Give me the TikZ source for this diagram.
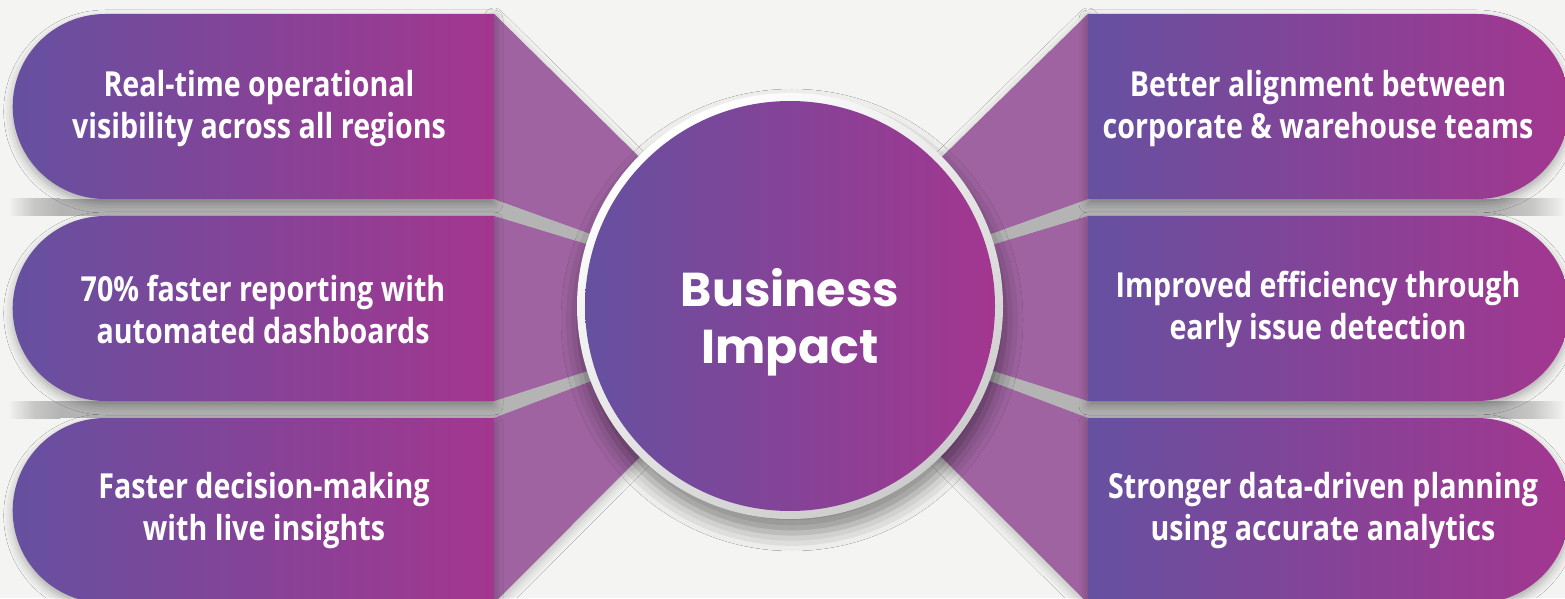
\documentclass[tikz,border=0pt]{standalone}
\usepackage{fontspec}
\setmainfont{Open Sans}[FakeStretch=0.83]
\newfontfamily\popfont{Poppins}
\usetikzlibrary{shadows.blur}
\definecolor{bg}{HTML}{F4F4F2}
\definecolor{pl}{HTML}{6650A0}
\definecolor{pr}{HTML}{A3368F}
\definecolor{wedgec}{HTML}{9E63A0}
\definecolor{gapgray}{HTML}{B4B4B4}
\tikzset{
  pill/.style={left color=pl, right color=pr,
    blur shadow={shadow xshift=0pt, shadow yshift=-5pt, shadow blur radius=9pt, shadow opacity=30}},
  wedgefill/.style={fill=wedgec,
    blur shadow={shadow xshift=0pt, shadow yshift=-4pt, shadow blur radius=10pt, shadow opacity=25}},
  gapfill/.style={fill=gapgray},
  pilltext/.style={text=white, font=\bfseries\fontsize{34.5}{42}\selectfont, align=center, inner sep=0pt},
  hubtext/.style={text=white, font=\popfont\bfseries\fontsize{47.5}{57}\selectfont, align=center, inner sep=0pt}
}
\begin{document}
\begin{tikzpicture}[x=1pt,y=1pt]
\useasboundingbox (0,0) rectangle (1565,598);
\clip (0,0) rectangle (1565,598);
\fill[bg] (0,0) rectangle (1565,598);
% hub anchor
\coordinate (c) at (790,292);
% pill edge corners
\foreach \n/\t/\b in {1/584/399, 2/382/197, 3/180/-5} {
  \coordinate (L\n t) at (494,\t);
  \coordinate (L\n b) at (494,\b);
  \coordinate (R\n t) at (1088,\t);
  \coordinate (R\n b) at (1088,\b);
}
% wedges (connectors pill -> hub), shadows first
\foreach \n in {1,2,3} {
  \fill[wedgefill] (L\n t) -- (c) -- (L\n b) -- cycle;
  \fill[wedgefill] (R\n t) -- (c) -- (R\n b) -- cycle;
}
% gray gaps
\fill[gapfill] (L1b) -- (c) -- (L2t) -- cycle;
\fill[gapfill] (L2b) -- (c) -- (L3t) -- cycle;
\fill[gapfill] (R1b) -- (c) -- (R2t) -- cycle;
\fill[gapfill] (R2b) -- (c) -- (R3t) -- cycle;
\shade[left color=bg, right color=gapgray, middle color=gapgray!70!bg] (8,382) rectangle (60,399);
\fill[gapfill] (60,382) rectangle (494,399);
\shade[left color=bg, right color=gapgray, middle color=gapgray!70!bg] (8,180) rectangle (60,197);
\fill[gapfill] (60,180) rectangle (494,197);
\fill[gapfill] (1088,382) rectangle (1500,399);
\shade[right color=bg, left color=gapgray, middle color=gapgray!70!bg] (1500,382) rectangle (1565,399);
\fill[gapfill] (1088,180) rectangle (1500,197);
\shade[right color=bg, left color=gapgray, middle color=gapgray!70!bg] (1500,180) rectangle (1565,197);
% wedges again on top of gap bands
\foreach \n in {1,2,3} {
  \fill[wedgec] (L\n t) -- (c) -- (L\n b) -- cycle;
  \fill[wedgec] (R\n t) -- (c) -- (R\n b) -- cycle;
}
% pills
\foreach \n/\t/\b in {1/584/399, 2/382/197, 3/180/-5} {
  \path[pill] (L\n t) -- (105.2,\t) arc[start angle=90, end angle=270, radius=92.5] -- (L\n b) -- cycle;
  \path[pill] (R\n t) -- (1477,\t) arc[start angle=90, end angle=-90, radius=92.5] -- (R\n b) -- cycle;
}
% pill texts
\node[pilltext] (t1) at (259,489) {Real-time operational\\visibility across all regions};
\node[pilltext] (t2) at (263,289) {70\% faster reporting with\\automated dashboards};
\node[pilltext] (t3) at (264,87) {Faster decision-making\\with live insights};
\node[pilltext] (t4) at (1318,489) {Better alignment between\\corporate \& warehouse teams};
\node[pilltext] (t5) at (1318,289) {Improved efficiency through\\early issue detection};
\node[pilltext] (t6) at (1323,87) {Stronger data-driven planning\\using accurate analytics};
% hub
\node[circle, minimum size=426pt, inner sep=0pt, top color=white, bottom color=black!20, shading angle=35,
  blur shadow={shadow xshift=2pt, shadow yshift=-14pt, shadow blur radius=18pt, shadow opacity=45}] (hub) at (c) {};
\node[circle, minimum size=410pt, inner sep=0pt, left color=pl, right color=pr] (core) at (hub.center) {};
\node[hubtext] (ht) at (790,276) {Business\\Impact};
\end{tikzpicture}
\end{document}
